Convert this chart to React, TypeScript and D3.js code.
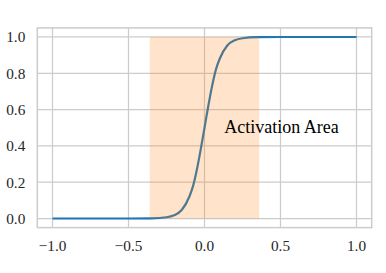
import React from 'react';
import * as d3 from 'd3';

// values
const curveX = [-1.0, -0.5, -0.35, -0.25, -0.2, -0.15, -0.1, -0.075, -0.05, -0.025, 0, 0.025, 0.05, 0.075, 0.1, 0.15, 0.2, 0.25, 0.35, 0.5, 1.0];
const curveY = [0, 0, 0.001, 0.007, 0.018, 0.047, 0.12, 0.18, 0.27, 0.38, 0.5, 0.62, 0.73, 0.82, 0.88, 0.953, 0.982, 0.993, 0.999, 1, 1];

const shadeX = [-0.36, 0.36];
const shadeY = [0, 1];

const xTicks = [-1.0, -0.5, 0.0, 0.5, 1.0];
const yTicks = [0.0, 0.2, 0.4, 0.6, 0.8, 1.0];

const label = { text: 'Activation Area', x: 0.13, y: 0.47 };

const W = 386;
const H = 273;
const FONT = '"Liberation Serif", "DejaVu Serif", serif';
const GRID = '#cccccc';

const fmt = (v: number) => d3.format('.1f')(v).replace('-', '\u2212');

export default function App() {
  const x = d3.scaleLinear().domain([-1.1, 1.1]).range([37.3, 371.7]);
  const y = d3.scaleLinear().domain([-0.05, 1.05]).range([227.6, 27.9]);

  const pts: [number, number][] = curveX.map((v, i) => [v, curveY[i]]);
  const line = d3.line<[number, number]>()
    .x(d => x(d[0]))
    .y(d => y(d[1]))
    .curve(d3.curveMonotoneX);

  const [x0, x1] = x.range();
  const [y0, y1] = y.range();

  return (
    <svg width={W} height={H} style={{ position: 'absolute', left: 0, top: 0, background: '#fff' }}>
      {/* grid */}
      {xTicks.map(t => (
        <line key={'gx' + t} x1={x(t)} x2={x(t)} y1={y1} y2={y0} stroke={GRID} strokeWidth={1.25} />
      ))}
      {yTicks.map(t => (
        <line key={'gy' + t} x1={x0} x2={x1} y1={y(t)} y2={y(t)} stroke={GRID} strokeWidth={1.25} />
      ))}

      <path d={line(pts) ?? ''} fill="none" stroke="#1f77b4" strokeWidth={2.2} />

      {/* shaded region drawn over the line */}
      <rect
        x={x(shadeX[0])}
        y={y(shadeY[1])}
        width={x(shadeX[1]) - x(shadeX[0])}
        height={y(shadeY[0]) - y(shadeY[1])}
        fill="#ff7f0e"
        fillOpacity={0.22}
      />

      {/* spines */}
      <rect x={x0} y={y1} width={x1 - x0} height={y0 - y1} fill="none" stroke={GRID} strokeWidth={1.5} />

      {/* tick labels */}
      {xTicks.map(t => (
        <text key={'tx' + t} x={x(t)} y={250.7} textAnchor="middle" fontFamily={FONT} fontSize={15.3} fill="#262626">
          {fmt(t)}
        </text>
      ))}
      {yTicks.map(t => (
        <text key={'ty' + t} x={25.3} y={y(t) + 5.4} textAnchor="end" fontFamily={FONT} fontSize={15.3} fill="#262626">
          {fmt(t)}
        </text>
      ))}

      <text x={x(label.x)} y={y(label.y)} fontFamily={FONT} fontSize={18} fill="#000">
        {label.text}
      </text>
    </svg>
  );
}
